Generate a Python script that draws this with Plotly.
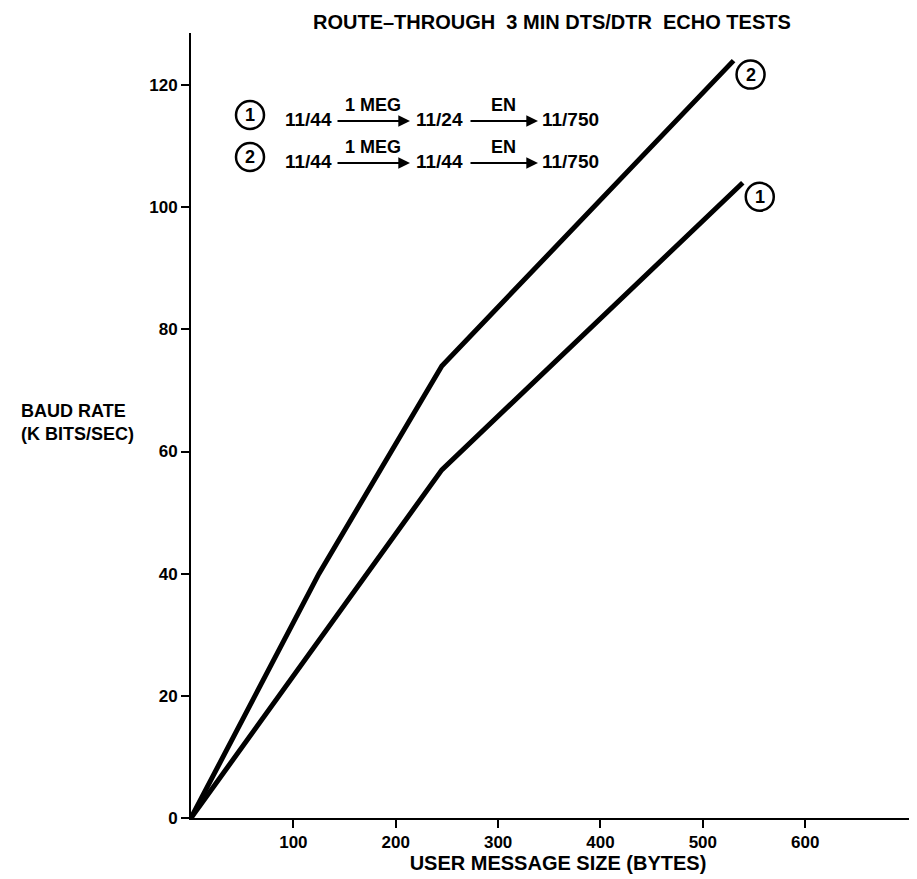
import plotly.graph_objects as go

# ---- data ----
series1_x = [0, 245, 539]
series1_y = [0, 57, 104]
series2_x = [0, 125, 245, 530]
series2_y = [0, 40, 74, 124]
x_ticks = [100, 200, 300, 400, 500, 600]
y_ticks = [0, 20, 40, 60, 80, 100, 120]
title_text = "ROUTE\u2013THROUGH  3 MIN DTS/DTR  ECHO TESTS"
x_title = "USER MESSAGE SIZE (BYTES)"
y_title = "BAUD RATE<br>(K BITS/SEC)"
legend_rows = [
    ("1", "11/44", "1 MEG", "11/24", "EN", "11/750"),
    ("2", "11/44", "1 MEG", "11/44", "EN", "11/750"),
]

W, H = 917, 879
L, T, B = 183, 25, 69
PW, PH = W - L, H - T - B
FONT = "Liberation Sans"

def px(x):
    return (x - L) / PW

def py(y):
    return (H - B - y) / PH

def text_ann(x, y, txt, size, **kw):
    d = dict(x=px(x), y=py(y), xref="paper", yref="paper",
             text="<b>%s</b>" % txt, showarrow=False,
             xanchor="center", yanchor="middle",
             font=dict(family=FONT, size=size, color="black"))
    d.update(kw)
    return d

fig = go.Figure()
for xs, ys in [(series1_x, series1_y), (series2_x, series2_y)]:
    fig.add_trace(go.Scatter(x=xs, y=ys, mode="lines",
                             line=dict(color="black", width=5),
                             showlegend=False, hoverinfo="skip"))

annotations = []
shapes = []

# end labels (circled numbers at line ends)
for xs, ys, lab in [(series1_x, series1_y, "1"), (series2_x, series2_y, "2")]:
    shapes.append(dict(type="circle", xref="x", yref="y",
                       xsizemode="pixel", ysizemode="pixel",
                       xanchor=xs[-1], yanchor=ys[-1],
                       x0=3, x1=31, y0=-28, y1=0,
                       line=dict(color="black", width=2.5)))
    annotations.append(dict(x=xs[-1], y=ys[-1], xref="x", yref="y",
                            text="<b>%s</b>" % lab, showarrow=False,
                            xanchor="center", yanchor="middle",
                            xshift=17, yshift=-14,
                            font=dict(family=FONT, size=18, color="black")))

# legend rows
row_y = [107, 149]
for (num, a, l1, b, l2, c), yy in zip(legend_rows, row_y):
    shapes.append(dict(type="circle", xref="paper", yref="paper",
                       xsizemode="pixel", ysizemode="pixel",
                       xanchor=px(242), yanchor=py(yy),
                       x0=-14, x1=14, y0=-14, y1=14,
                       line=dict(color="black", width=2.5)))
    annotations.append(text_ann(242, yy, num, 18))
    for txt, cx in [(a, 300), (b, 431), (c, 562)]:
        annotations.append(text_ann(cx, yy + 5, txt, 19))
    for lab, x0, x1 in [(l1, 328, 402), (l2, 461, 530)]:
        annotations.append(dict(x=px(x1), y=py(yy + 6), xref="paper", yref="paper",
                                ax=x0 - x1, ay=0, text="", showarrow=True,
                                arrowhead=2, arrowsize=1.3, arrowwidth=1.8,
                                arrowcolor="black", standoff=0, startstandoff=0))
        annotations.append(text_ann((x0 + x1) / 2, yy - 10, lab, 18))

# title
annotations.append(text_ann(544, 14, title_text, 20))
# y title
annotations.append(text_ann(11, 414, y_title, 18, xanchor="left", align="left"))

fig.update_layout(
    width=W, height=H,
    margin=dict(l=L, r=0, t=T, b=B),
    paper_bgcolor="white", plot_bgcolor="white",
    showlegend=False,
    annotations=annotations, shapes=shapes,
    font=dict(family=FONT, color="black"),
    xaxis=dict(range=[0, PW / 1.0237], tickvals=x_ticks,
               showline=True, linecolor="black", linewidth=2,
               ticks="outside", ticklen=8, tickwidth=2, tickcolor="black",
               showgrid=False, zeroline=False,
               tickfont=dict(family=FONT, size=17, color="black", weight="bold"),
               title=dict(text="<b>%s</b>" % x_title, standoff=5,
                          font=dict(family=FONT, size=20, color="black"))),
    yaxis=dict(range=[0, PH / 6.108], tickvals=y_ticks,
               showline=True, linecolor="black", linewidth=2,
               ticks="outside", ticklen=8, tickwidth=2, tickcolor="black",
               showgrid=False, zeroline=False,
               tickfont=dict(family=FONT, size=17, color="black", weight="bold")),
)

fig.write_html("out.html")
